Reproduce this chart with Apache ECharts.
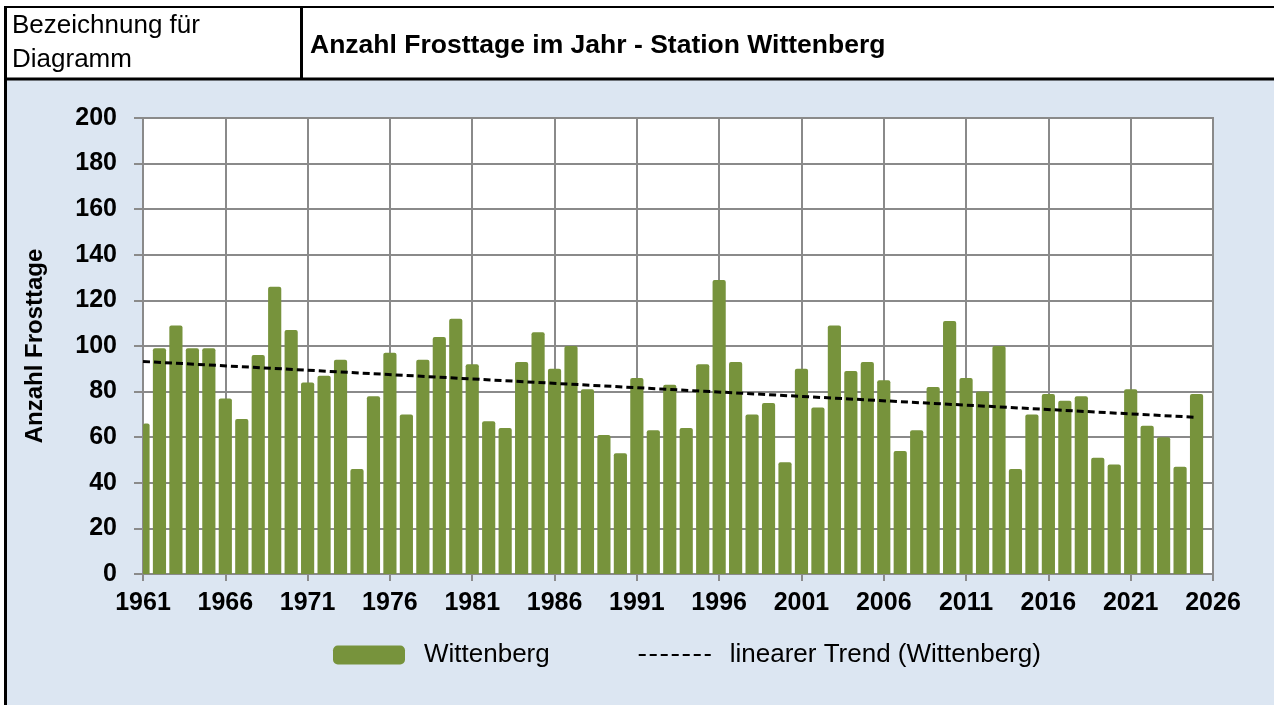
<!DOCTYPE html>
<html>
<head>
<meta charset="utf-8">
<title>Anzahl Frosttage im Jahr - Station Wittenberg</title>
<script src="https://cdn.jsdelivr.net/npm/echarts@6/dist/echarts.min.js"></script>
<style>
    html, body { margin: 0; padding: 0; background: #fff; }
    #main { width: 1274px; height: 705px; }
</style>
</head>
<body>
<div id="main"></div>
<script>
// Jahre (Kategorien)
var years = [1961, 1962, 1963, 1964, 1965, 1966, 1967, 1968, 1969, 1970,
    1971, 1972, 1973, 1974, 1975, 1976, 1977, 1978, 1979, 1980,
    1981, 1982, 1983, 1984, 1985, 1986, 1987, 1988, 1989, 1990,
    1991, 1992, 1993, 1994, 1995, 1996, 1997, 1998, 1999, 2000,
    2001, 2002, 2003, 2004, 2005, 2006, 2007, 2008, 2009, 2010,
    2011, 2012, 2013, 2014, 2015, 2016, 2017, 2018, 2019, 2020,
    2021, 2022, 2023, 2024, 2025];
// Frosttage Wittenberg
var frostDays = [66, 99, 109, 99, 99, 77, 68, 96, 126, 107,
    84, 87, 94, 46, 78, 97, 70, 94, 104, 112,
    92, 67, 64, 93, 106, 90, 100, 81, 61, 53,
    86, 63, 83, 64, 92, 129, 93, 70, 75, 49,
    90, 73, 109, 89, 93, 85, 54, 63, 82, 111,
    86, 80, 100, 46, 70, 79, 76, 78, 51, 48,
    81, 65, 60, 47, 79];
// linearer Trend, Endpunkte
var trendYears = [1961, 2025];
var trendValues = [93.2, 68.7];
// Achsen
var xStart = 1961, xEnd = 2026, xStep = 5;
var yTicks = [0, 20, 40, 60, 80, 100, 120, 140, 160, 180, 200];

var FONT = '"Liberation Sans", Arial, sans-serif';
var GRID_COLOR = '#8a8a8a';
var BAR_COLOR = '#77933c';

// Balken zeichnen, am Gitter abgeschnitten (erster Balken halb)
function renderBar(params, api) {
    var x = api.value(0);
    var top = api.coord([x, api.value(1)]);
    var base = api.coord([x, 0]);
    var w = api.size([1, 0])[0] * 0.8;
    var rect = echarts.graphic.clipRectByRect({
        x: top[0] - w / 2,
        y: top[1],
        width: w,
        height: base[1] - top[1]
    }, {
        x: params.coordSys.x,
        y: params.coordSys.y,
        width: params.coordSys.width,
        height: params.coordSys.height
    });
    if (!rect) {
        return;
    }
    rect.r = [2, 2, 0, 0];
    return {
        type: 'rect',
        shape: rect,
        style: { fill: api.visual('color') }
    };
}

function initChart() {
    var chart = echarts.init(document.getElementById('main'));

    // x-Werte relativ zum Startjahr, damit die Ticks bei 1961 beginnen
    var barData = years.map(function (y, i) {
        return [y - xStart, frostDays[i]];
    });
    var trendData = trendYears.map(function (y, i) {
        return [y - xStart, trendValues[i]];
    });

    var option = {
        backgroundColor: '#ffffff',
        animation: false,
        textStyle: { fontFamily: FONT },
        graphic: [
            // Hintergrund Diagrammbereich
            { type: 'rect', z: -10, shape: { x: 7, y: 80, width: 1267, height: 625 }, style: { fill: '#dce6f2' } },
            // Tabellenrahmen
            { type: 'line', z: 10, shape: { x1: 4, y1: 7, x2: 1274, y2: 7 }, style: { stroke: '#000', lineWidth: 2 } },
            { type: 'line', z: 10, shape: { x1: 4, y1: 79, x2: 1274, y2: 79 }, style: { stroke: '#000', lineWidth: 3 } },
            { type: 'line', z: 10, shape: { x1: 5.5, y1: 6, x2: 5.5, y2: 705 }, style: { stroke: '#000', lineWidth: 3 } },
            { type: 'line', z: 10, shape: { x1: 301.5, y1: 7, x2: 301.5, y2: 79 }, style: { stroke: '#000', lineWidth: 3 } },
            // Kopfzeile
            { type: 'text', style: { x: 12, y: 26, text: 'Bezeichnung für', font: '26px ' + FONT, fill: '#000', verticalAlign: 'middle' } },
            { type: 'text', style: { x: 12, y: 60, text: 'Diagramm', font: '26px ' + FONT, fill: '#000', verticalAlign: 'middle' } },
            { type: 'text', style: { x: 310, y: 46, text: 'Anzahl Frosttage im Jahr - Station Wittenberg', font: 'bold 26.5px ' + FONT, fill: '#000', verticalAlign: 'middle' } }
        ],
        grid: {
            left: 143,
            right: 61,
            top: 118,
            bottom: 131,
            show: true,
            backgroundColor: '#ffffff',
            borderColor: GRID_COLOR,
            borderWidth: 2
        },
        legend: {
            left: 328,
            top: 637,
            itemWidth: 72,
            itemHeight: 19,
            itemGap: 88,
            textStyle: { fontFamily: FONT, fontSize: 26, color: '#000', padding: [0, 0, 0, 14] },
            data: [
                { name: 'Wittenberg', icon: 'roundRect' },
                { name: 'linearer Trend (Wittenberg)', itemStyle: { opacity: 0 } }
            ]
        },
        xAxis: {
            type: 'value',
            min: 0,
            max: xEnd - xStart,
            interval: xStep,
            axisLine: { show: true, lineStyle: { color: GRID_COLOR, width: 2 } },
            axisTick: { show: true, length: 7, lineStyle: { color: GRID_COLOR, width: 2 } },
            splitLine: { show: true, lineStyle: { color: GRID_COLOR, width: 2 } },
            axisLabel: {
                margin: 17,
                fontFamily: FONT,
                fontSize: 25,
                fontWeight: 'bold',
                color: '#000',
                formatter: function (v) { return String(v + xStart); }
            }
        },
        yAxis: {
            type: 'value',
            min: yTicks[0],
            max: yTicks[yTicks.length - 1],
            interval: yTicks[1] - yTicks[0],
            name: 'Anzahl Frosttage',
            nameLocation: 'middle',
            nameRotate: 90,
            nameGap: 96,
            nameTextStyle: { fontFamily: FONT, fontSize: 24, fontWeight: 'bold', color: '#000' },
            axisLine: { show: true, lineStyle: { color: GRID_COLOR, width: 2 } },
            axisTick: { show: true, length: 9, lineStyle: { color: GRID_COLOR, width: 2 } },
            splitLine: { show: true, lineStyle: { color: GRID_COLOR, width: 2 } },
            axisLabel: {
                margin: 26,
                fontFamily: FONT,
                fontSize: 25,
                fontWeight: 'bold',
                color: '#000'
            }
        },
        series: [
            {
                name: 'Wittenberg',
                type: 'custom',
                renderItem: renderBar,
                encode: { x: 0, y: 1 },
                data: barData,
                itemStyle: { color: BAR_COLOR },
                z: 2
            },
            {
                name: 'linearer Trend (Wittenberg)',
                type: 'line',
                data: trendData,
                symbol: 'none',
                color: '#000',
                lineStyle: { color: '#000', width: 3, type: [7, 4] },
                z: 3
            }
        ]
    };
    chart.setOption(option);
    return chart;
}

initChart();
</script>
</body>
</html>
